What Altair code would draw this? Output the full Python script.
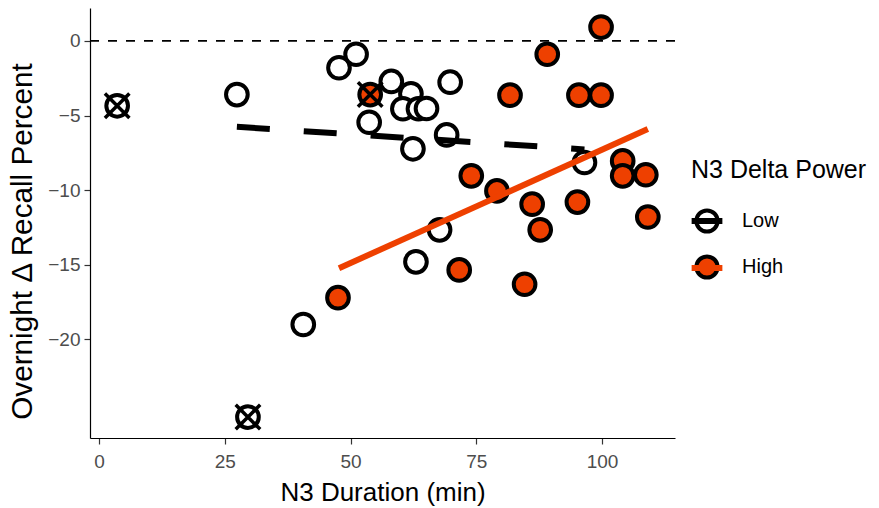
import altair as alt
import pandas as pd

# ---- data ----
pt_x = [27.4, 47.7, 51.1, 53.7, 58.1, 62.0, 60.4, 63.5, 65.1, 62.4, 69.8, 69.1, 96.5, 67.7, 63.0, 40.6,
        3.6, 29.6,
        99.8, 89.1, 81.7, 95.4, 99.8, 74.0, 79.1, 86.1, 87.7, 95.1, 104.1, 104.1, 108.7, 109.1, 71.6, 84.6, 47.5,
        53.9]
pt_y = [-3.6, -1.8, -0.9, -5.45, -2.72, -3.55, -4.55, -4.55, -4.53, -7.23, -2.77, -6.3, -8.15, -12.66, -14.8, -19.0,
        -4.35, -25.2,
        0.92, -0.9, -3.64, -3.64, -3.64, -9.04, -10.05, -10.94, -12.66, -10.8, -8.04, -9.04, -8.97, -11.8, -15.34, -16.3, -17.2,
        -3.6]
pt_group = ["Low"] * 18 + ["High"] * 18
pt_outlier = [0] * 16 + [1, 1] + [0] * 17 + [1]

fit_x = [27.4, 96.5, 47.7, 109.1]
fit_y = [-5.76, -7.27, -15.23, -5.91]
fit_group = ["Low", "Low", "High", "High"]

zero_y = [0]
x_ticks = [0, 25, 50, 75, 100]
y_ticks = [0, -5, -10, -15, -20]
groups = ["Low", "High"]

ORANGE = "#EE4000"
FONT = "Liberation Sans"

pts = pd.DataFrame({"x": pt_x, "y": pt_y, "group": pt_group, "outlier": pt_outlier})
fit = pd.DataFrame({"x": fit_x, "y": fit_y, "group": fit_group})
zero = pd.DataFrame({"y": zero_y})

xscale = alt.Scale(domain=[-1.8, 114.5], nice=False, zero=False)
yscale = alt.Scale(domain=[-26.6, 2.2], nice=False, zero=False)

xaxis = alt.Axis(values=x_ticks, title="N3 Duration (min)", grid=False, labelFontSize=19,
                 labelColor="#4D4D4D", titleFontSize=26, titleColor="black", titleFontWeight="normal",
                 domainColor="black", domainWidth=1.2, tickColor="#333333", tickWidth=1.2, tickSize=6,
                 labelPadding=8, titlePadding=8, labelFont=FONT, titleFont=FONT)
yaxis = alt.Axis(values=y_ticks, title="Overnight \u0394 Recall Percent", grid=False, labelFontSize=19,
                 labelColor="#4D4D4D", titleFontSize=29.7, titleColor="black", titleFontWeight="normal",
                 domainColor="black", domainWidth=1.2, tickColor="#333333", tickWidth=1.2, tickSize=6,
                 labelPadding=4, titlePadding=10, titleY=233, labelFont=FONT, titleFont=FONT)

X = alt.X("x:Q", scale=xscale, axis=xaxis)
Y = alt.Y("y:Q", scale=yscale, axis=yaxis)

LX, LY = 601, 150
common_legend = dict(orient="none", titleFontSize=25, titleFont=FONT, titleFontWeight="normal",
                     titleColor="black", labelFontSize=20, labelFont=FONT, labelColor="black",
                     symbolSize=450, titlePadding=25, symbolOffset=3, labelOffset=22, padding=0)

zero_layer = alt.Chart(zero).mark_rule(color="black", strokeWidth=1.6, strokeDash=[9, 9]).encode(y=Y)

point_layer = alt.Chart(pts).mark_circle(size=470, stroke="black", strokeWidth=4, opacity=1).encode(
    x=X, y=Y,
    fill=alt.Fill("group:N", scale=alt.Scale(domain=groups, range=["white", ORANGE]),
                  legend=alt.Legend(title="N3 Delta Power", legendX=LX, legendY=LY,
                                    symbolType="circle", symbolStrokeColor="black",
                                    symbolStrokeWidth=4, rowPadding=8, **common_legend)),
)

cross_layer = alt.Chart(pts).transform_filter("datum.outlier == 1").mark_point(
    shape="M-1,-1L1,1M-1,1L1,-1", size=600, stroke="black", strokeWidth=3.5, opacity=1, filled=False
).encode(x=X, y=Y)

stroke_enc = alt.Stroke("group:N", sort=groups, scale=alt.Scale(range=["black", ORANGE]),
                        legend=alt.Legend(title="N3 Delta Power", legendX=LX - 1, legendY=LY - 1,
                                          symbolType="M-1.45,0L1.45,0", symbolStrokeWidth=6,
                                          rowPadding=21, titleOpacity=0, labelOpacity=0,
                                          **common_legend))

low_line = alt.Chart(fit).transform_filter("datum.group == 'Low'").mark_line(
    strokeWidth=6, strokeCap="butt", strokeDash=[33, 34]).encode(x=X, y=Y, stroke=stroke_enc)
high_line = alt.Chart(fit).transform_filter("datum.group == 'High'").mark_line(
    strokeWidth=6, strokeCap="butt").encode(x=X, y=Y, stroke=stroke_enc)

chart = alt.layer(zero_layer, point_layer, cross_layer, low_line, high_line).properties(
    width=585, height=430,
    autosize=alt.AutoSizeParams(type="none"),
    padding={"left": 90, "top": 8, "right": 204, "bottom": 70},
).configure(font=FONT, background="white", view=alt.ViewConfig(stroke="transparent"))

chart.save("out.html", embed_options={"renderer": "svg", "actions": False})
